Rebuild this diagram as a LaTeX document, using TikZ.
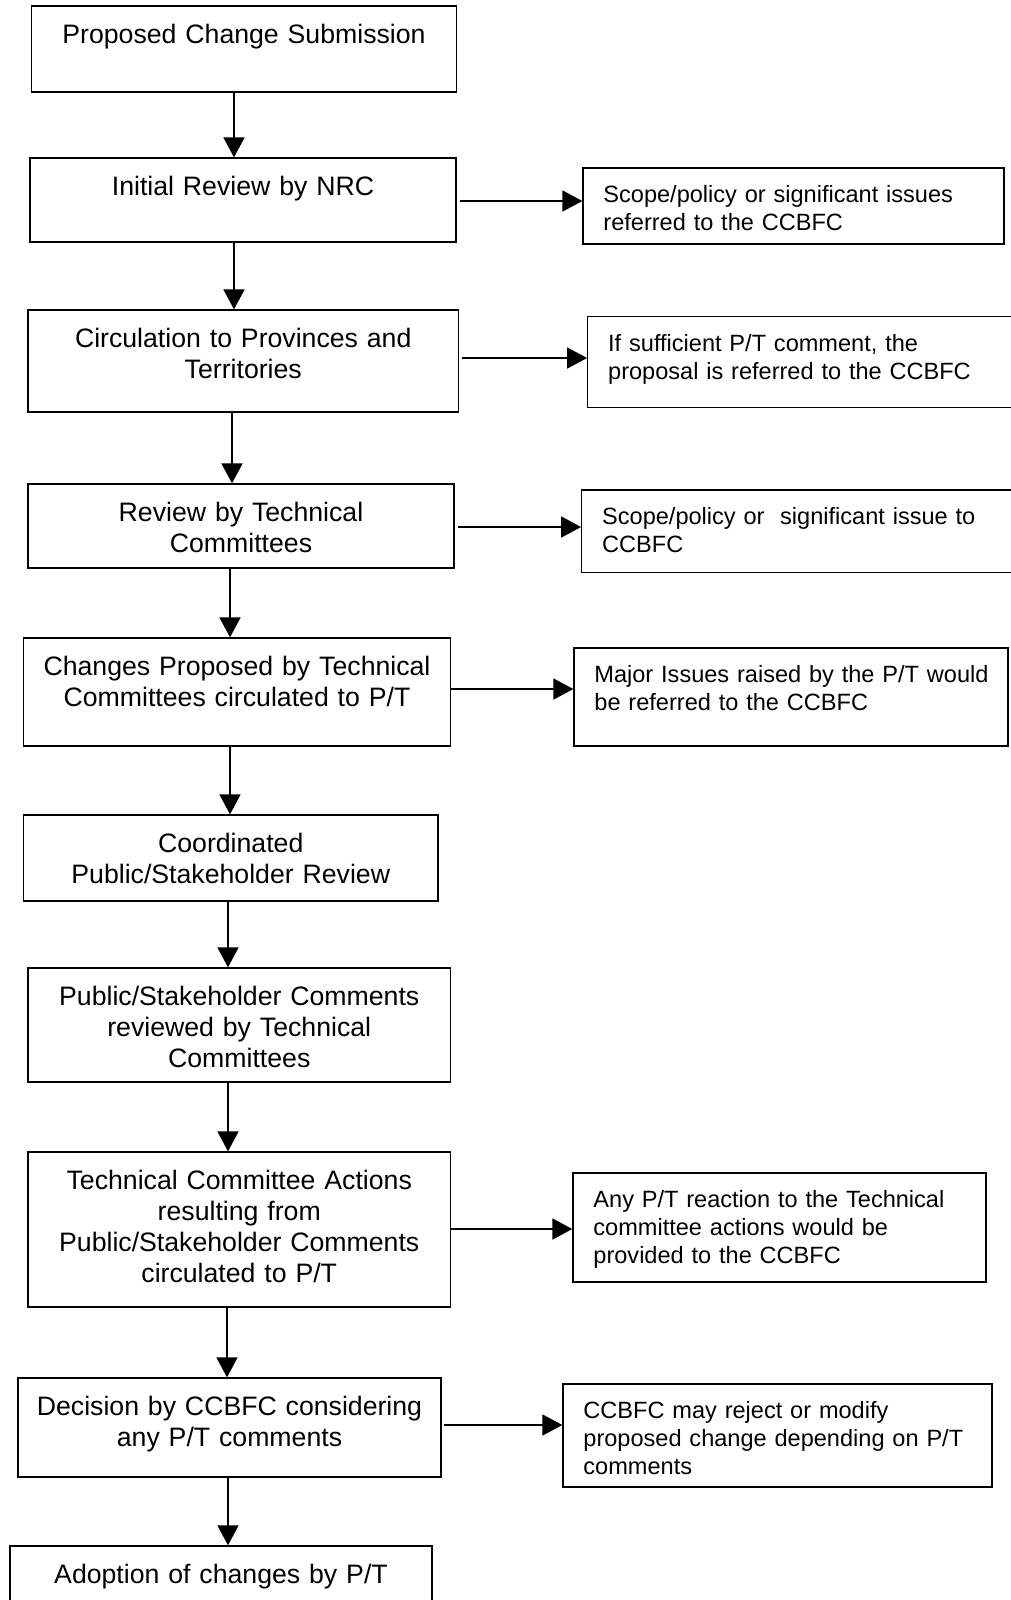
\documentclass[tikz,border=0pt]{standalone}
\usepackage{fontspec}
\setmainfont{Liberation Sans}
\usetikzlibrary{arrows.meta}

\begin{document}
\begin{tikzpicture}[x=0.45pt,y=-0.45pt,
  stepbox/.style={draw,line width=.6pt,inner sep=0pt},
  steptext/.style={font=\fontsize{12}{13.95}\selectfont,align=center,text width=185pt,inner sep=0pt,anchor=base,yshift=-17pt},
  notetext/.style={font=\fontsize{10.6}{12.5}\selectfont,align=left,text width=185pt,inner sep=0pt,anchor=base west,xshift=9.3pt,yshift=-16pt},
  flow/.style={-{Triangle[length=9pt,width=9.5pt]},line width=.6pt}]

\clip (0,0) rectangle (1011,1600);

% main column
\node[stepbox,minimum width=191.25pt,minimum height=38.7pt,
  label={[steptext]north:{Proposed Change Submission}}] (submit) at (244,49) {};
\node[stepbox,minimum width=191.7pt,minimum height=37.8pt,
  label={[steptext]north:{Initial Review by NRC}}] (nrc) at (243,200) {};
\node[stepbox,minimum width=193.7pt,minimum height=45.9pt,
  label={[steptext]north:{Circulation to Provinces and\\Territories}}] (circ) at (243.25,361) {};
\node[stepbox,minimum width=191.7pt,minimum height=37.8pt,
  label={[steptext]north:{Review by Technical\\Committees}}] (tech) at (241,526) {};
\node[stepbox,minimum width=192.15pt,minimum height=48.6pt,
  label={[steptext]north:{Changes Proposed by Technical\\Committees circulated to P/T}}] (changes) at (237,692) {};
\node[stepbox,minimum width=186.5pt,minimum height=38.7pt,
  label={[steptext]north:{Coordinated\\Public/Stakeholder Review}}] (coord) at (230.75,858) {};
\node[stepbox,minimum width=190.1pt,minimum height=51.3pt,
  label={[steptext]north:{Public/Stakeholder Comments\\reviewed by Technical\\Committees}}] (pubrev) at (239.25,1025) {};
\node[stepbox,minimum width=190.1pt,minimum height=69.75pt,
  label={[steptext]north:{Technical Committee Actions\\resulting from\\Public/Stakeholder Comments\\circulated to P/T}}] (actions) at (239.25,1229.5) {};
\node[stepbox,minimum width=190.35pt,minimum height=44.55pt,
  label={[steptext]north:{Decision by CCBFC considering\\any P/T comments}}] (decision) at (229.5,1427.5) {};
\node[stepbox,minimum width=189.9pt,minimum height=42.3pt,
  label={[steptext]north:{Adoption of changes by P/T}}] (adopt) at (221,1593) {};

% side notes
\node[stepbox,minimum width=189.45pt,minimum height=34.2pt,
  label={[notetext]north west:{Scope/policy or significant issues\\referred to the CCBFC}}] (policy) at (793.5,206) {};
\node[stepbox,minimum width=194.5pt,minimum height=40.95pt,
  label={[notetext]north west:{If sufficient P/T comment, the\\proposal is referred to the CCBFC}}] (ptcomment) at (803.85,362.2) {};
\node[stepbox,minimum width=197.2pt,minimum height=37.2pt,
  label={[notetext]north west:{Scope/policy or\ \ significant issue to\\CCBFC}}] (tcissue) at (800.85,531.35) {};
\node[stepbox,minimum width=195.3pt,minimum height=44.1pt,
  label={[notetext]north west:{Major Issues raised by the P/T would\\be referred to the CCBFC}}] (major) at (791,697) {};
\node[stepbox,minimum width=185.85pt,minimum height=49.05pt,
  label={[notetext]north west:{Any P/T reaction to the Technical\\committee actions would be\\provided to the CCBFC}}] (reaction) at (779.5,1227.5) {};
\node[stepbox,minimum width=193.05pt,minimum height=46.35pt,
  label={[notetext]north west:{CCBFC may reject or modify\\proposed change depending on P/T\\comments}}] (reject) at (777.5,1435.5) {};

% downward flow
\draw[flow] (submit.south -| 234,0) -- (nrc.north -| 234,0);
\draw[flow] (nrc.south -| 234,0) -- (circ.north -| 234,0);
\draw[flow] (circ.south -| 232,0) -- (tech.north -| 232,0);
\draw[flow] (tech.south -| 230,0) -- (changes.north -| 230,0);
\draw[flow] (changes.south -| 230,0) -- (coord.north -| 230,0);
\draw[flow] (coord.south -| 228,0) -- (pubrev.north -| 228,0);
\draw[flow] (pubrev.south -| 228,0) -- (actions.north -| 228,0);
\draw[flow] (actions.south -| 227,0) -- (decision.north -| 227,0);
\draw[flow] (decision.south -| 228,0) -- (adopt.north -| 228,0);

% referrals
\draw[flow,shorten <=1.5pt] (nrc.east |- 0,201) -- (policy.west |- 0,201);
\draw[flow,shorten <=1.5pt] (circ.east |- 0,358) -- (ptcomment.west |- 0,358);
\draw[flow,shorten <=1.5pt] (tech.east |- 0,527) -- (tcissue.west |- 0,527);
\draw[flow] (changes.east |- 0,689) -- (major.west |- 0,689);
\draw[flow] (actions.east |- 0,1229) -- (reaction.west |- 0,1229);
\draw[flow,shorten <=1pt] (decision.east |- 0,1425) -- (reject.west |- 0,1425);

\end{tikzpicture}
\end{document}
